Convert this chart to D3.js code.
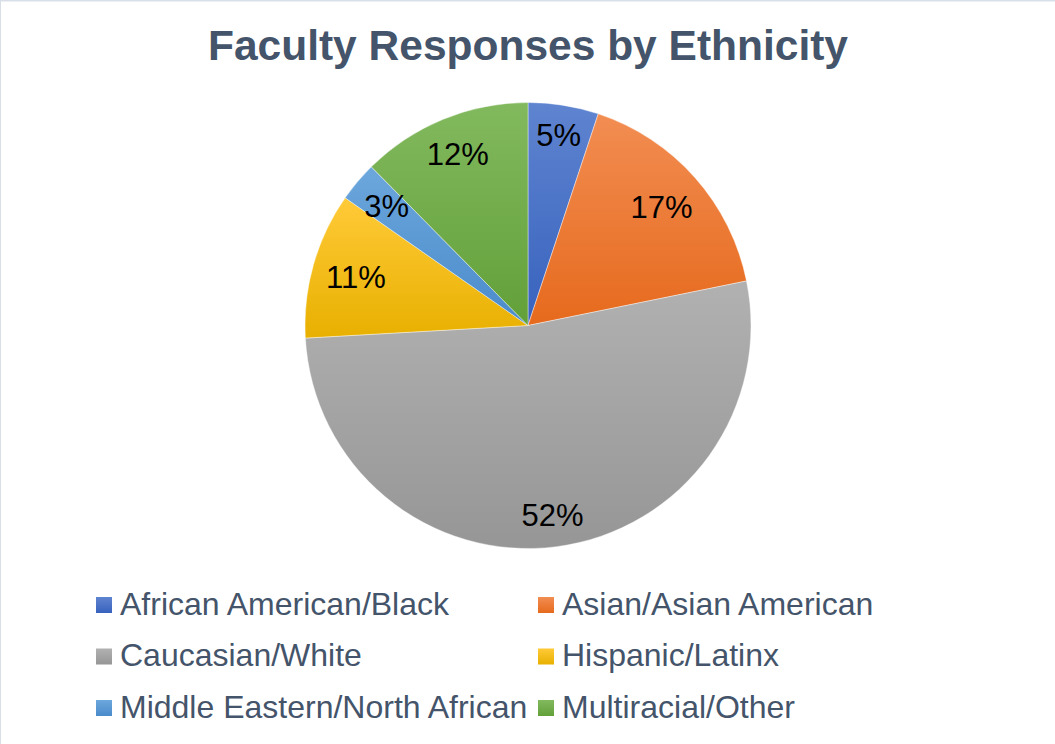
<!DOCTYPE html>
<html>
<head>
<meta charset="utf-8">
<script src="https://cdn.jsdelivr.net/npm/d3@7"></script>
<style>
  html, body { margin: 0; padding: 0; background: #fff; }
  svg { display: block; }
</style>
</head>
<body>
<svg id="chart" width="1055" height="744"></svg>
<script>
// ---- data ----
const categories = ["African American/Black", "Asian/Asian American", "Caucasian/White",
                    "Hispanic/Latinx", "Middle Eastern/North African", "Multiracial/Other"];
const values = [5.1, 16.7, 52.3, 10.6, 2.9, 12.4];
const colorsTop = ["#5f84d0", "#f28d52", "#b1b1b1", "#ffca38", "#6ca7dc", "#82b95e"];
const colorsBottom = ["#3762bd", "#e66a1d", "#969696", "#e8b000", "#4a8bcb", "#62a039"];
const title = "Faculty Responses by Ethnicity";

const W = 1055, H = 744;
const cx = 528, cy = 325.5, R = 223;
const font = "'Liberation Sans', Arial, Helvetica, sans-serif";
const textColor = "#44546a";

const svg = d3.select("#chart");

// border lines (top/left)
svg.append("line").attr("x1", 0).attr("y1", 0.5).attr("x2", W).attr("y2", 0.5)
  .attr("stroke", "#d9dfe7").attr("stroke-width", 2);
svg.append("line").attr("x1", 0.5).attr("y1", 0).attr("x2", 0.5).attr("y2", H)
  .attr("stroke", "#d9dfe7").attr("stroke-width", 1);

// gradients
const defs = svg.append("defs");
categories.forEach((c, i) => {
  const g = defs.append("linearGradient").attr("id", "grad" + i)
    .attr("x1", 0).attr("y1", 0).attr("x2", 0).attr("y2", 1);
  g.append("stop").attr("offset", "0%").attr("stop-color", colorsTop[i]);
  g.append("stop").attr("offset", "100%").attr("stop-color", colorsBottom[i]);
});

// title
svg.append("text")
  .attr("x", cx).attr("y", 60)
  .attr("text-anchor", "middle")
  .attr("font-family", font).attr("font-weight", "bold")
  .attr("font-size", 42.5).attr("fill", textColor)
  .text(title);

// pie
const pie = d3.pie().sort(null).value(d => d.v);
const data = pie(categories.map((c, i) => ({ c, v: values[i], i })));
const arc = d3.arc().innerRadius(0).outerRadius(R);
const total = d3.sum(values);

const g = svg.append("g").attr("transform", `translate(${cx},${cy})`);
g.selectAll("path.slice").data(data).enter().append("path")
  .attr("class", "slice")
  .attr("d", arc)
  .attr("fill", d => `url(#grad${d.data.i})`)
  .attr("stroke", "#ffffff").attr("stroke-width", 0.4);

// labels: placed inside so that the outer corner of the text box sits near the rim
const labels = g.selectAll("text.lbl").data(data).enter().append("text")
  .attr("class", "lbl")
  .attr("text-anchor", "middle")
  .attr("font-family", font).attr("font-size", 31)
  .attr("fill", "#000")
  .text(d => Math.round(d.data.v / total * 100) + "%");

labels.each(function(d) {
  const bb = this.getBBox();
  const hw = bb.width / 2, hh = 15;
  const a = (d.startAngle + d.endAngle) / 2;
  const sx = Math.sin(a), sy = -Math.cos(a);
  const target = R * 0.95;
  let lo = 0, hi = R;
  for (let k = 0; k < 40; k++) {
    const r = (lo + hi) / 2;
    const px = r * sx + Math.sign(sx) * hw, py = r * sy + Math.sign(sy) * hh;
    if (Math.hypot(px, py) > target) hi = r; else lo = r;
  }
  const r = lo;
  d3.select(this).attr("x", r * sx).attr("y", r * sy + 11);
});

// legend
const legendX = [96, 538];
const legendY = [605, 656.5, 708];
const leg = svg.append("g");
categories.forEach((c, i) => {
  const col = i % 2, row = Math.floor(i / 2);
  const x = legendX[col], y = legendY[row];
  leg.append("rect").attr("x", x).attr("y", y - 8).attr("width", 16).attr("height", 16)
    .attr("fill", `url(#grad${i})`);
  leg.append("text").attr("x", x + 24).attr("y", y + 9.5)
    .attr("font-family", font).attr("font-size", 32).attr("fill", textColor)
    .text(c);
});
</script>
</body>
</html>
